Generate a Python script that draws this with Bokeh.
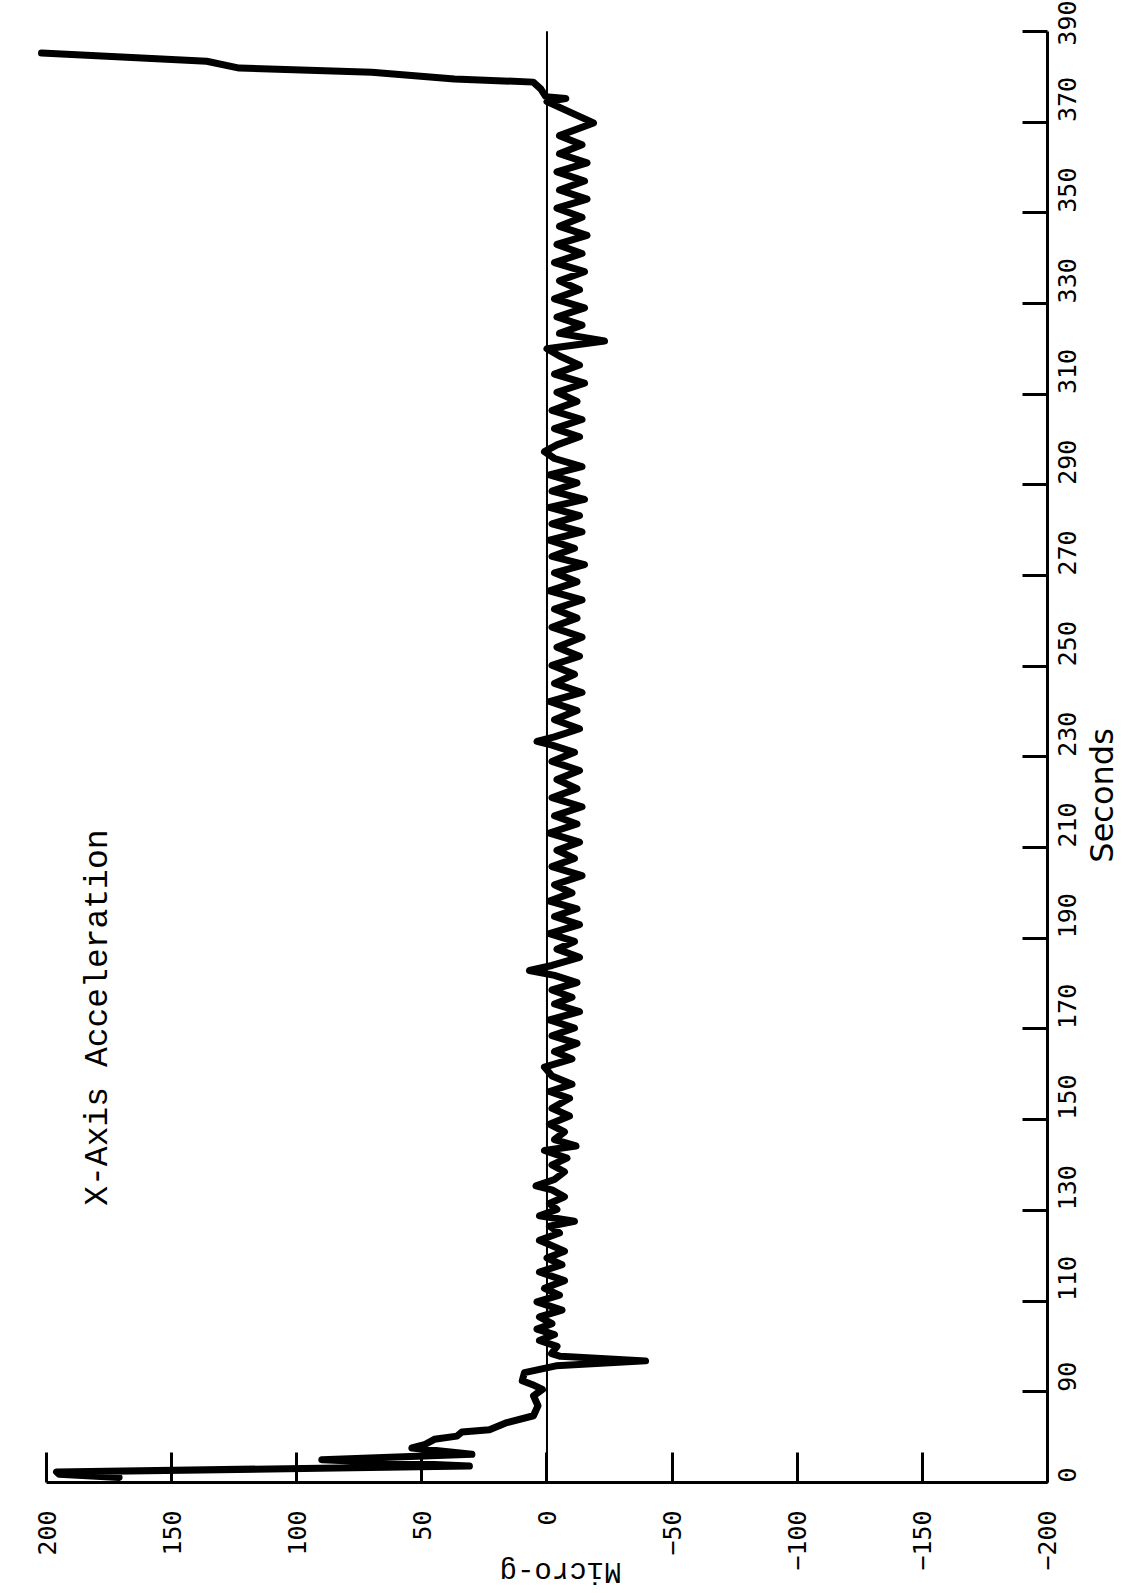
import math
from bokeh.plotting import figure
from bokeh.models import Range1d, FixedTicker, Label, ColumnDataSource
from bokeh.embed import file_html
from bokeh.resources import INLINE

# ---- data (time axis origin is labelled "0") ----
# launch phase
launch_seconds = [71.1, 71.8, 72.3, 73.6, 75.0, 76.2, 77.6, 78.3, 79.5, 80.2,
                  81.1, 81.6, 83.2, 84.7, 86.9, 89.1, 90.5, 91.6, 92.4, 94.2,
                  95.7, 96.8, 97.8, 98.4]
launch_micro_g = [171, 195, 196, 31, 90, 30, 54, 49, 45, 36,
                  34, 23, 16, 5.4, 3.6, 5.4, 1.8, 6, 9.9, 9,
                  -3.6, -39.4, -5.4, -1.8]

# coast phase (oscillation about a small negative level)
coast_seconds = [100.0, 101.3, 102.6, 103.8, 105.0, 106.5, 108.0, 109.8, 111.3, 112.8,
                 114.5, 116.4, 118.0, 119.5, 121.0, 123.4, 125.0, 126.5, 127.6, 128.8,
                 130.2, 131.5, 133.0, 134.5, 135.4, 136.8, 138.5, 140.0, 141.5, 143.2,
                 144.2, 145.6, 147.3, 149.0, 150.8, 152.5, 154.7, 156.2, 157.8, 159.6,
                 161.6, 163.4, 165.0, 166.8, 168.5, 170.2, 172.0, 173.8, 175.5, 177.0,
                 178.6, 180.2, 181.8, 182.9, 184.0, 185.8, 187.6, 189.3, 191.0, 193.0,
                 194.8, 196.5, 198.2, 200.0, 201.8, 203.8, 205.8, 207.6, 209.4, 211.2,
                 213.2, 215.2, 217.0, 219.0, 221.0, 223.0, 225.0, 227.0, 229.0, 231.0,
                 232.6, 233.4, 234.4, 236.2, 238.2, 240.2, 242.2, 244.2, 246.2, 248.2,
                 250.2, 252.2, 254.2, 256.4, 258.6, 260.6, 262.6, 264.6, 266.6, 268.6,
                 270.6, 272.4, 274.2, 276.0, 277.8, 279.6, 281.4, 283.2, 285.0, 286.8,
                 288.6, 290.4, 292.2, 294.0, 295.8, 297.3, 298.8, 300.6, 302.4, 304.4,
                 306.4, 308.4, 310.4, 312.4, 314.4, 316.4, 318.4, 320.0, 321.7, 323.4,
                 325.2, 327.0, 329.0, 331.0, 333.0, 335.0, 337.0, 339.0, 341.0, 343.0,
                 345.0, 347.0, 349.0, 351.0, 353.0, 355.0, 357.0, 359.0, 361.0, 363.0,
                 365.0, 367.0]
coast_micro_g = [-4, 3, -3, 4, -2, 3, -6, 4, -5, 1,
                 -7, 3, -6, 0, -7, 3, -5, -1, -11, 3,
                 -4, -1, -7, -2, 4.4, -3, -7, -2, -8, 1,
                 -11.6, -3, -7, -1, -9, -2, -9, -1, -10, -2,
                 1, -10, -3, -12, -2, -11, -1, -13, -3, -10,
                 -2, -12, -3, 7, -2, -13, -4, -11, -1, -13,
                 -3, -12, -1, -10, -3, -14, -2, -11, -4, -13,
                 -1, -12, -3, -14, -2, -12, -4, -13, -2, -11,
                 -2, 4, -3, -13, -3, -12, -1, -14, -3, -11,
                 -2, -13, -4, -14, -2, -12, -3, -14, -1, -12,
                 -3, -15, -2, -11, -1, -14, -2, -13, -1, -15,
                 -2, -12, -1, -14, -3, 1, -4, -13, -3, -14,
                 -2, -12, -4, -15, -3, -13, -5, 0, -23, -5,
                 -14, -4, -15, -3, -13, -5, -15, -3, -14, -4,
                 -16, -5, -14, -4, -16, -5, -15, -4, -16, -5,
                 -14, -5]

# final rise
final_seconds = [369.8, 374.5, 375.2, 375.6, 377.3, 378.8, 379.5, 381.0, 381.9, 383.4, 385.2]
final_micro_g = [-18.6, 0, -7.5, 0.5, 2.5, 5.5, 37, 70, 123, 136, 202]

assert len(launch_seconds) == len(launch_micro_g)
assert len(coast_seconds) == len(coast_micro_g)
assert len(final_seconds) == len(final_micro_g)

seconds = launch_seconds + coast_seconds + final_seconds
micro_g = launch_micro_g + coast_micro_g + final_micro_g

micro_g_ticks = [200, 150, 100, 50, 0, -50, -100, -150, -200]
seconds_ticks = [70, 90, 110, 130, 150, 170, 190, 210, 230, 250, 270, 290,
                 310, 330, 350, 370, 390]
seconds_tick_labels = {70: "0"}

TICK_FONT = "DejaVu Sans Mono"

# The frame covers the whole canvas; the axes are pinned at fixed locations
p = figure(width=1129, height=1593,
           x_range=Range1d(218.4, -232.8), y_range=Range1d(45.5, 396.8),
           x_axis_location="below", y_axis_location="right",
           output_backend="svg", toolbar_location=None,
           min_border_left=0, min_border_right=0,
           min_border_top=0, min_border_bottom=0)

p.background_fill_color = "white"
p.border_fill_color = "white"
p.outline_line_color = None
p.xgrid.visible = False
p.ygrid.visible = False

# Micro-g axis (bottom)
xa = p.xaxis[0]
xa.fixed_location = seconds_ticks[0]
xa.bounds = (micro_g_ticks[-1], micro_g_ticks[0])
xa.ticker = FixedTicker(ticks=micro_g_ticks)
xa.major_label_orientation = math.pi / 2
xa.major_tick_in = 30
xa.major_tick_out = 0
xa.minor_tick_in = 0
xa.minor_tick_out = 0
xa.axis_line_width = 3
xa.major_tick_line_width = 3
xa.axis_line_color = "black"
xa.major_tick_line_color = "black"
xa.major_label_standoff = 28
xa.major_label_text_font = TICK_FONT
xa.major_label_text_font_size = "25px"
xa.major_label_text_color = "black"

# Seconds axis (right)
ya = p.yaxis[0]
ya.fixed_location = micro_g_ticks[-1]
ya.bounds = (seconds_ticks[0], seconds_ticks[-1])
ya.ticker = FixedTicker(ticks=seconds_ticks)
ya.major_label_overrides = seconds_tick_labels
ya.major_label_orientation = math.pi / 2
ya.major_tick_in = 25
ya.major_tick_out = 0
ya.minor_tick_in = 0
ya.minor_tick_out = 0
ya.axis_line_width = 3
ya.major_tick_line_width = 3
ya.axis_line_color = "black"
ya.major_tick_line_color = "black"
ya.major_label_standoff = 20
ya.major_label_text_font = TICK_FONT
ya.major_label_text_font_size = "25px"
ya.major_label_text_color = "black"

# zero reference line over the time span of the axis
p.segment(x0=[0], y0=[seconds_ticks[0]], x1=[0], y1=[seconds_ticks[-1]],
          line_color="black", line_width=2)

src = ColumnDataSource(data=dict(g=micro_g, t=seconds))
p.line(x="g", y="t", source=src, line_color="black", line_width=7,
       line_join="round", line_cap="round")

p.add_layout(Label(x=179.2, y=172.5, text="X-Axis Acceleration", angle=math.pi / 2,
                   text_align="center", text_baseline="middle",
                   text_font="Liberation Mono", text_font_size="33px",
                   text_color="black"))
p.add_layout(Label(x=-221.8, y=221.5, text="Seconds", angle=math.pi / 2,
                   text_align="center", text_baseline="middle",
                   text_font="DejaVu Sans", text_font_size="32px",
                   text_color="black"))
p.add_layout(Label(x=-5.4, y=50.6, text="Micro-g", angle=math.pi,
                   text_align="center", text_baseline="middle",
                   text_font="Liberation Mono", text_font_size="29px",
                   text_color="black"))

open("out.html", "w").write(file_html(p, INLINE))
